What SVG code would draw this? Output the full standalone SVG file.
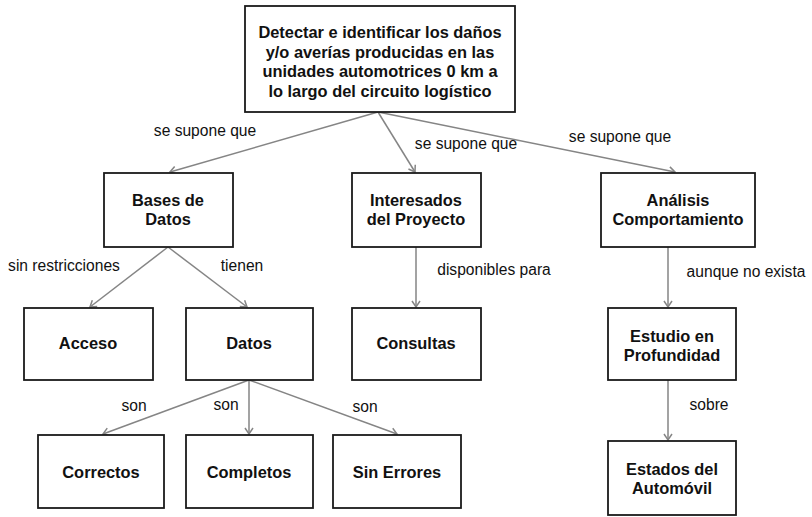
<svg xmlns="http://www.w3.org/2000/svg" width="812" height="517" viewBox="0 0 812 517">
<defs>
<marker id="ah" markerUnits="userSpaceOnUse" markerWidth="12" markerHeight="12" refX="0" refY="0" viewBox="-7 -6 8 12" orient="auto" overflow="visible">
<path d="M-6,-4 L0,0 L-6,4" fill="none" stroke="#858585" stroke-width="1.5"/>
</marker>
</defs>
<style>
.box{fill:#fff;stroke:#1a1a1a;stroke-width:1.8}
.nt{font-family:"Liberation Sans",Arial,sans-serif;font-weight:bold;font-size:16.4px;fill:#111;text-anchor:middle}
.lb{font-family:"Liberation Sans",Arial,sans-serif;font-size:15.6px;fill:#111;text-anchor:middle}
.cn{stroke:#858585;stroke-width:1.5;fill:none;marker-end:url(#ah)}
</style>
<rect width="812" height="517" fill="#fff"/>
<g id="connectors">
<line class="cn" x1="378" y1="112" x2="170" y2="172"/>
<line class="cn" x1="378" y1="112" x2="415" y2="172"/>
<line class="cn" x1="378" y1="112" x2="675" y2="172"/>
<line class="cn" x1="168" y1="247" x2="90" y2="307"/>
<line class="cn" x1="168" y1="247" x2="247" y2="307"/>
<line class="cn" x1="416" y1="247" x2="416" y2="307"/>
<line class="cn" x1="668" y1="247" x2="668" y2="307"/>
<line class="cn" x1="668" y1="380" x2="668" y2="440"/>
<line class="cn" x1="249" y1="380" x2="103" y2="434"/>
<line class="cn" x1="249" y1="380" x2="249" y2="434"/>
<line class="cn" x1="249" y1="380" x2="397" y2="434"/>
<text class="lb" x="205" y="136">se supone que</text>
<text class="lb" x="466" y="149">se supone que</text>
<text class="lb" x="620" y="142">se supone que</text>
<text class="lb" x="64" y="271">sin restricciones</text>
<text class="lb" x="242" y="271">tienen</text>
<text class="lb" x="494" y="275">disponibles para</text>
<text class="lb" x="746" y="277">aunque no exista</text>
<text class="lb" x="709" y="410">sobre</text>
<text class="lb" x="134" y="411">son</text>
<text class="lb" x="226" y="410">son</text>
<text class="lb" x="365" y="412">son</text>
</g>
<g id="n-top">
<rect class="box" x="245" y="6" width="270" height="106"/>
<text class="nt" x="380" y="38">Detectar e identificar los daños</text>
<text class="nt" x="380" y="57.5">y/o averías producidas en las</text>
<text class="nt" x="380" y="77">unidades automotrices 0 km a</text>
<text class="nt" x="380" y="96.5">lo largo del circuito logístico</text>
</g>
<g id="n-bases">
<rect class="box" x="104" y="173" width="129" height="74"/>
<text class="nt" x="168" y="206">Bases de</text>
<text class="nt" x="168" y="225">Datos</text>
</g>
<g id="n-interesados">
<rect class="box" x="352" y="173" width="129" height="74"/>
<text class="nt" x="416" y="206">Interesados</text>
<text class="nt" x="416" y="225">del Proyecto</text>
</g>
<g id="n-analisis">
<rect class="box" x="601" y="173" width="154" height="74"/>
<text class="nt" x="678" y="206">Análisis</text>
<text class="nt" x="678" y="225">Comportamiento</text>
</g>
<g id="n-acceso">
<rect class="box" x="24" y="308" width="129" height="72"/>
<text class="nt" x="88" y="349">Acceso</text>
</g>
<g id="n-datos">
<rect class="box" x="186" y="308" width="127" height="72"/>
<text class="nt" x="249" y="349">Datos</text>
</g>
<g id="n-consultas">
<rect class="box" x="352" y="308" width="129" height="72"/>
<text class="nt" x="416" y="349">Consultas</text>
</g>
<g id="n-estudio">
<rect class="box" x="608" y="308" width="128" height="72"/>
<text class="nt" x="672" y="341.5">Estudio en</text>
<text class="nt" x="672" y="361">Profundidad</text>
</g>
<g id="n-correctos">
<rect class="box" x="38" y="435" width="126" height="73"/>
<text class="nt" x="101" y="477.5">Correctos</text>
</g>
<g id="n-completos">
<rect class="box" x="186" y="435" width="127" height="73"/>
<text class="nt" x="249" y="477.5">Completos</text>
</g>
<g id="n-sinerrores">
<rect class="box" x="333" y="435" width="128" height="73"/>
<text class="nt" x="397" y="477.5">Sin Errores</text>
</g>
<g id="n-estados">
<rect class="box" x="608" y="441" width="128" height="74"/>
<text class="nt" x="672" y="475">Estados del</text>
<text class="nt" x="672" y="494">Automóvil</text>
</g>
</svg>
